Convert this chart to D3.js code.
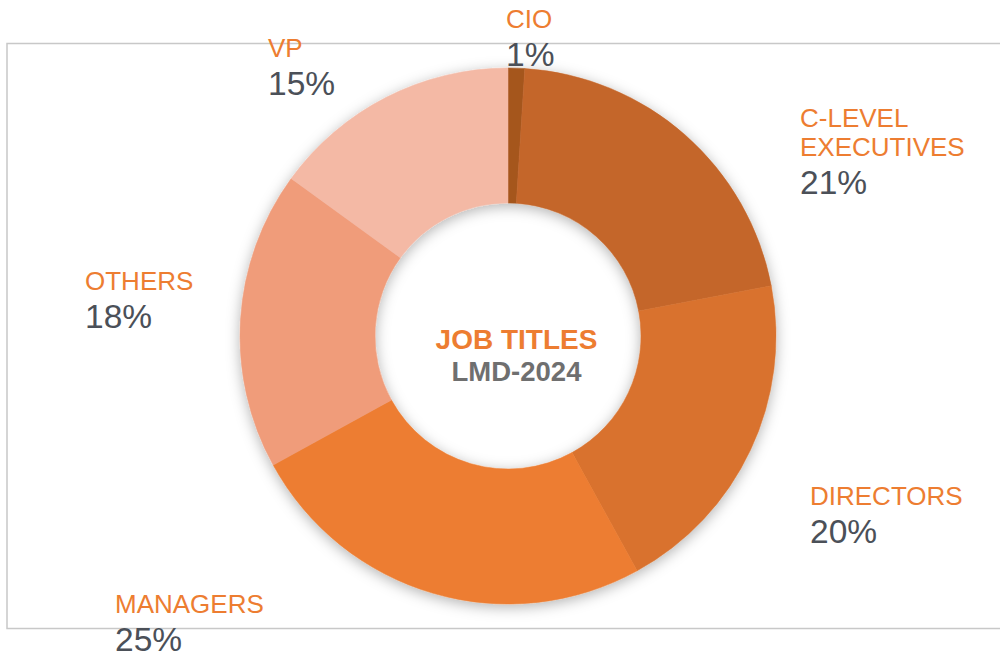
<!DOCTYPE html>
<html>
<head>
<meta charset="utf-8">
<script src="https://cdn.jsdelivr.net/npm/d3@7"></script>
<style>
  html, body { margin: 0; padding: 0; background: #fff; }
  svg { display: block; }
</style>
</head>
<body>
<svg id="chart" width="1000" height="656"></svg>
<script>
// ---- data ----
const categories = ["CIO", "C-LEVEL EXECUTIVES", "DIRECTORS", "MANAGERS", "OTHERS", "VP"];
const labelLines = [["CIO"], ["C-LEVEL", "EXECUTIVES"], ["DIRECTORS"], ["MANAGERS"], ["OTHERS"], ["VP"]];
const values = [1, 21, 20, 25, 18, 15];
const valueLabels = ["1%", "21%", "20%", "25%", "18%", "15%"];
const centerTitle = "JOB TITLES";
const centerSubtitle = "LMD-2024";

// ---- styles / layout ----
const colors = ["#A5561F", "#C4662A", "#D9722E", "#ED7D31", "#F09C7A", "#F4B9A5"];
const labelPos = [
  [506, 28], [800, 127], [810, 505], [115, 613], [85, 290], [268, 57]
];
const cx = 508, cy = 336, rOuter = 268, rInner = 133;

const svg = d3.select("#chart");
const defs = svg.append("defs");
const f = defs.append("filter").attr("id", "shadow")
  .attr("x", "-20%").attr("y", "-20%").attr("width", "140%").attr("height", "140%");
f.append("feDropShadow").attr("dx", 0).attr("dy", 3).attr("stdDeviation", 7)
  .attr("flood-color", "#000").attr("flood-opacity", 0.3);

// frame
svg.append("rect").attr("x", 7).attr("y", 43.5).attr("width", 1010).attr("height", 585)
  .attr("fill", "none").attr("stroke", "#C8C8C8").attr("stroke-width", 1.5);

const pie = d3.pie().sort(null).value(d => d)(values);
const arc = d3.arc().innerRadius(rInner).outerRadius(rOuter);

const g = svg.append("g").attr("transform", `translate(${cx},${cy})`);
g.append("g").attr("filter", "url(#shadow)")
  .selectAll("path").data(pie).join("path")
  .attr("d", arc)
  .attr("fill", (d, i) => colors[i])
  .attr("stroke", (d, i) => colors[i])
  .attr("stroke-width", 0.5);

// center text
svg.append("text").attr("x", 516.5).attr("y", 349).attr("text-anchor", "middle")
  .attr("font-family", "Liberation Sans, Arial, sans-serif").attr("font-weight", "bold")
  .attr("font-size", 28).attr("fill", "#ED7D31").text(centerTitle);
svg.append("text").attr("x", 516.5).attr("y", 381).attr("text-anchor", "middle")
  .attr("font-family", "Liberation Sans, Arial, sans-serif").attr("font-weight", "bold")
  .attr("font-size", 27.5).attr("fill", "#6F6F6F").text(centerSubtitle);

// labels
const labels = svg.append("g").attr("font-family", "Liberation Sans, Arial, sans-serif");
pie.forEach((d, i) => {
  const [x, y] = labelPos[i];
  const t = labels.append("text").attr("x", x).attr("y", y);
  labelLines[i].forEach((line, j) => {
    t.append("tspan").attr("x", x).attr("dy", j === 0 ? 0 : 28.5)
      .attr("font-size", 26).attr("fill", "#ED7D31").text(line);
  });
  t.append("tspan").attr("x", x).attr("dy", 38)
    .attr("font-size", 33.5).attr("fill", "#4B5058").text(valueLabels[i]);
});
</script>
</body>
</html>
